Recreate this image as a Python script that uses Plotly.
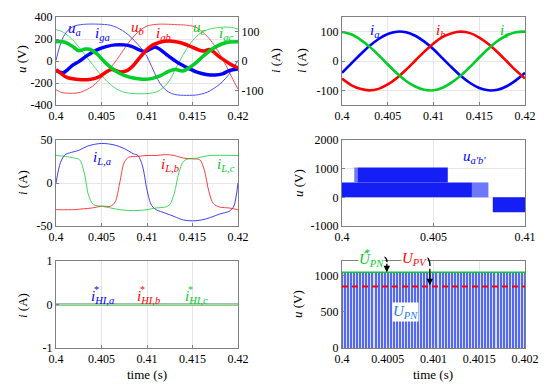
import plotly.graph_objects as go

# ---------------- data (time in ms after 0.4 s) ----------------
t_u_ms = [0, 0.67, 1.33, 2.0, 2.67, 3.33, 4.0, 4.67, 5.33, 6.0, 6.67, 7.33, 8.0, 8.67, 9.33,
          10.0, 10.67, 11.33, 12.0, 12.67, 13.33, 14.0, 14.67, 15.33, 16.0, 16.67, 17.33,
          18.0, 18.67, 19.33, 20.0]
u_a = [5, 195, 280, 318, 330, 335, 336, 335, 332, 325, 305, 275, 235, 180, 120, 40, -80, -190,
       -260, -295, -308, -312, -312, -310, -300, -282, -250, -210, -155, -85, 5]
u_b = [-262, -288, -293, -293, -285, -262, -230, -180, -125, -60, 10, 90, 170, 235, 285, 318,
       330, 335, 335, 333, 330, 328, 322, 310, 270, 220, 150, 65, -40, -150, -255]
u_c = [285, 268, 230, 176, 110, 40, -30, -100, -160, -215, -255, -280, -292, -297, -298, -296,
       -290, -270, -225, -150, -40, 60, 150, 215, 260, 285, 298, 305, 308, 305, 290]

t_iga_ms = [0, 0.8, 1.8, 2.5, 3.5, 4.5, 5.5, 6.5, 7.5, 8.3, 9.0, 9.7, 10.3, 10.9, 11.5, 12.3,
            13.4, 14.5, 15.5, 16.5, 17.5, 18.3, 19.1, 20]
i_ga = [-33, -40, -15, -2, 20, 38, 49, 55, 55, 50, 40, 32, 40, 48, 38, 18, -6, -24, -38, -46,
        -48, -44, -32, -27]
t_igb_ms = [0, 1.2, 2.5, 3.7, 4.6, 5.4, 6.1, 7.0, 7.8, 8.5, 9.3, 10.3, 11.4, 12.5, 13.6, 14.7,
            15.5, 16.2, 16.9, 18.0, 19.4, 20]
i_gb = [-29, -56, -63, -63, -56, -40, -29, -37, -33, -15, 15, 48, 64, 68, 63, 51, 40, 34, 39,
        13, -15, -23]
t_igc_ms = [0, 1.0, 1.8, 2.5, 3.2, 3.7, 4.5, 5.5, 6.5, 7.5, 8.5, 9.5, 10.5, 11.5, 12.3, 13.1,
            13.9, 14.5, 15.3, 16.2, 17.2, 18.2, 19.1, 20]
i_gc = [66, 64, 50, 35, 41, 40, 24, -8, -33, -49, -58, -62, -60, -50, -36, -29, -34, -26, -8,
        17, 42, 58, 65, 66]

t_i_ms = [0, 1, 2, 3, 4, 5, 6, 7, 8, 9, 10, 11, 12, 13, 14, 15, 16, 17, 18, 19, 20]
i_a = [-40, -9, 22, 51, 75, 92, 100, 98, 86, 66, 40, 9, -22, -51, -75, -92, -100, -98, -86, -66, -40]
i_b = [-60, -82, -95, -100, -95, -80, -58, -30, 1, 32, 60, 82, 95, 100, 95, 80, 58, 30, -1, -32, -60]
i_c = [99, 91, 73, 49, 20, -12, -42, -68, -87, -98, -100, -91, -73, -49, -20, 12, 42, 68, 87, 98, 100]

t_ila_ms = [0, 0.5, 1.0, 1.5, 2.5, 3.5, 5.0, 6.5, 7.5, 8.5, 9.0, 9.5, 10.0, 10.5, 11.0, 12.0,
            13.0, 14.0, 15.0, 16.0, 17.0, 18.0, 19.0, 19.5, 20.0]
i_La = [0, 24, 33, 35, 38, 43, 46, 44, 40, 34, 32, 20, -8, -26, -31, -35, -39, -43, -44, -43,
        -40, -36, -33, -28, 0]
t_ilb_ms = [0, 2, 3, 4, 5, 6, 6.5, 7.0, 7.5, 8.0, 9, 10, 11, 12, 13, 14, 15, 15.8, 16.3, 16.8,
            17.3, 18, 19, 20]
i_Lb = [-31, -31, -30, -29, -27, -27, -22, 0, 24, 30, 31, 32, 32, 33, 32, 29, 28, 27, 15, -10,
        -24, -28, -29, -31]
t_ilc_ms = [0, 1, 2, 2.6, 3.1, 3.6, 4.1, 5, 6, 7, 8, 9, 10, 11, 12, 12.5, 13.0, 13.5, 14.0,
            14.5, 15.5, 16.3, 17, 20]
i_Lc = [32, 31, 29, 27, 12, -15, -25, -27, -29, -31, -32, -32, -31, -29, -28, -25, -12, 12, 25,
        28, 29, 31, 32, 32]

t_hi_ms = [0, 20]
i_HIa = [0, 0]
i_HIb = [0, 0]
i_HIc = [0, 0]

# PWM voltage u_a'b' bands (s, V)
pwm_t0 = [0.4, 0.4071, 0.40067, 0.40085, 0.40824]
pwm_t1 = [0.4071, 0.4080, 0.40085, 0.40578, 0.41]
pwm_lo = [0, 0, 520, 520, -520]
pwm_hi = [520, 520, 1040, 1040, 0]
pwm_dense = [True, False, False, True, True]

# DC link
U_PN_ref = 1045
U_PV = 850
upn_pulse_us = [0, 33, 67, 100, 133, 167, 200, 233, 267, 300, 333, 367, 400, 433, 467, 500,
                533, 567, 600, 633, 667, 700, 733, 767, 800, 833, 867, 900, 933, 967, 1000,
                1033, 1067, 1100, 1133, 1167, 1200, 1233, 1267, 1300, 1333, 1367, 1400, 1433,
                1467, 1500, 1533, 1567, 1600, 1633, 1667, 1700, 1733, 1767, 1800, 1833, 1867,
                1900, 1933, 1967, 2000]

# ---------------- styling ----------------
FONT = "Liberation Serif, DejaVu Serif, serif"
BLUE = "rgb(0,0,255)"
RED = "rgb(255,0,0)"
GREEN = "rgb(0,205,40)"
FRAME = "#808080"
GRID = "#e6e6e6"


def T(ms_list):
    return [0.4 + m / 1000.0 for m in ms_list]


fig = go.Figure()


def line(x, y, color, width, xa, ya, shape="spline", opacity=1.0, dash=None):
    fig.add_trace(go.Scatter(x=x, y=y, mode="lines", xaxis=xa, yaxis=ya, opacity=opacity,
                             line=dict(color=color, width=width, shape=shape, dash=dash,
                                       smoothing=0.9),
                             showlegend=False, hoverinfo="skip"))


# top-left: thin grid voltages (left axis), thick grid currents (right axis)
line(T(t_u_ms), u_a, BLUE, 1, "x", "y", opacity=0.7)
line(T(t_u_ms), u_b, RED, 1, "x", "y", opacity=0.7)
line(T(t_u_ms), u_c, GREEN, 1, "x", "y", opacity=0.7)
line(T(t_iga_ms), i_ga, BLUE, 3.5, "x", "y7")
line(T(t_igb_ms), i_gb, RED, 3.5, "x", "y7")
line(T(t_igc_ms), i_gc, GREEN, 3.5, "x", "y7")

# top-right
line(T(t_i_ms), i_a, BLUE, 2.6, "x2", "y2")
line(T(t_i_ms), i_b, RED, 2.6, "x2", "y2")
line(T(t_i_ms), i_c, GREEN, 2.6, "x2", "y2")

# middle-left
line(T(t_ila_ms), i_La, BLUE, 1, "x3", "y3", opacity=0.75)
line(T(t_ilb_ms), i_Lb, RED, 1, "x3", "y3", opacity=0.75)
line(T(t_ilc_ms), i_Lc, GREEN, 1, "x3", "y3", opacity=0.75)

# middle-right PWM bands
for a, b, lo, hi, dense in zip(pwm_t0, pwm_t1, pwm_lo, pwm_hi, pwm_dense):
    fig.add_trace(go.Scatter(x=[a, b, b, a, a], y=[lo, lo, hi, hi, lo], mode="lines",
                             fill="toself",
                             fillcolor="rgb(20,30,245)" if dense else "rgb(110,120,250)",
                             line=dict(width=0), xaxis="x4", yaxis="y4",
                             showlegend=False, hoverinfo="skip"))

# bottom-left
line(T(t_hi_ms), i_HIb, RED, 1.5, "x5", "y5", shape="linear")
line(T(t_hi_ms), i_HIa, BLUE, 1.5, "x5", "y5", shape="linear")
line(T(t_hi_ms), i_HIc, "rgb(140,232,140)", 2, "x5", "y5", shape="linear")

# bottom-right: light backdrop bar + switching stripes
fig.add_trace(go.Bar(x=[0.401], y=[U_PN_ref], width=[0.002],
                     marker=dict(color="rgb(218,224,252)", line=dict(width=0)),
                     xaxis="x6", yaxis="y6", showlegend=False, hoverinfo="skip"))
fig.add_trace(go.Bar(x=[0.4 + u * 1e-6 for u in upn_pulse_us], y=[U_PN_ref] * len(upn_pulse_us),
                     width=1.2e-5, marker=dict(color="rgb(85,105,242)", line=dict(width=0)),
                     xaxis="x6", yaxis="y6", showlegend=False, hoverinfo="skip"))
line([0.4, 0.402], [U_PN_ref, U_PN_ref], GREEN, 1.5, "x6", "y6", shape="linear")
line([0.4, 0.402], [U_PV, U_PV], RED, 2, "x6", "y6", shape="linear", dash="6px,4px")

# ---------------- axes ----------------
C1 = [56 / 550, 238 / 550]
C2 = [342 / 550, 525 / 550]
R1 = [1 - 105 / 385, 1 - 17 / 385]
R2 = [1 - 226 / 385, 1 - 140 / 385]
R3 = [1 - 348 / 385, 1 - 261 / 385]


def axis(domain, anchor, rng, vals, texts, **kw):
    d = dict(domain=domain, anchor=anchor, range=rng, tickmode="array", tickvals=vals,
             ticktext=texts, showline=True, linecolor=FRAME, linewidth=1, mirror=True,
             ticks="inside", ticklen=3, tickcolor=FRAME, showgrid=True, gridcolor=GRID,
             gridwidth=1, zeroline=False, automargin=False,
             tickfont=dict(family=FONT, size=12, color="black"))
    d.update(kw)
    return d


xv20 = [0.4, 0.405, 0.41, 0.415, 0.42]
xt20 = ["0.4", "0.405", "0.41", "0.415", "0.42"]

fig.update_layout(
    template="none",
    width=550, height=385, margin=dict(l=0, r=0, t=0, b=0, pad=0),
    paper_bgcolor="white", plot_bgcolor="white", barmode="overlay",
    font=dict(family=FONT),
    xaxis=axis(C1, "y", [0.4, 0.42], xv20, xt20),
    yaxis=axis(R1, "x", [-400, 400], [-400, -200, 0, 200, 400],
               ["-400", "-200", "0", "200", "400"]),
    yaxis7=axis(R1, "x", [-150, 150], [-100, 0, 100], ["-100", "0", "100"],
                overlaying="y", side="right", showgrid=False, mirror=False),
    xaxis2=axis(C2, "y2", [0.4, 0.42], xv20, xt20),
    yaxis2=axis(R1, "x2", [-150, 150], [-100, 0, 100], ["-100", "0", "100"]),
    xaxis3=axis(C1, "y3", [0.4, 0.42], xv20, xt20),
    yaxis3=axis(R2, "x3", [-50, 50], [-50, 0, 50], ["-50", "0", "50"]),
    xaxis4=axis(C2, "y4", [0.4, 0.41], [0.4, 0.405, 0.41], ["0.4", "0.405", "0.41"]),
    yaxis4=axis(R2, "x4", [-1000, 2000], [-1000, 0, 1000, 2000],
                ["-1000", "0", "1000", "2000"]),
    xaxis5=axis(C1, "y5", [0.4, 0.42], xv20, xt20),
    yaxis5=axis(R3, "x5", [-1, 1], [-1, 0, 1], ["-1", "0", "1"]),
    xaxis6=axis(C2, "y6", [0.4, 0.402], [0.4, 0.4005, 0.401, 0.4015, 0.402],
                ["0.4", "0.4005", "0.401", "0.4015", "0.402"]),
    yaxis6=axis(R3, "x6", [0, 1200], [0, 500, 1000], ["0", "500", "1000"]),
)


# ---------------- text ----------------
def P(x, y):
    return x / 550, 1 - y / 385


ann = []


def txt(x, y, s, color="black", size=15, angle=0, xanchor="center", bg=None):
    px, py = P(x, y)
    d = dict(x=px, y=py, xref="paper", yref="paper", text=s, showarrow=False,
             font=dict(family=FONT, size=size, color=color), textangle=angle,
             xanchor=xanchor, yanchor="middle")
    if bg:
        d.update(bgcolor=bg, borderpad=0)
    ann.append(d)


# axis titles
txt(22, 59, "<i>u</i> (V)", size=13, angle=-90)
txt(276, 61, "<i>i</i> (A)", size=13, angle=-90)
txt(302, 61, "<i>i</i> (A)", size=13, angle=-90)
txt(22, 183, "<i>i</i> (A)", size=13, angle=-90)
txt(298, 183, "<i>u</i> (V)", size=13, angle=-90)
txt(22, 306, "<i>i</i> (A)", size=13, angle=-90)
txt(297, 304, "<i>u</i> (V)", size=13, angle=-90)
txt(147, 374, "time (s)", size=13)
txt(433, 374, "time (s)", size=13)

# curve labels
txt(74, 29, "<i>u</i><sub><i>a</i></sub>", BLUE)
txt(102, 34, "<i>i</i><sub><i>ga</i></sub>", BLUE)
txt(137, 28, "<i>u</i><sub><i>b</i></sub>", RED)
txt(163, 34, "<i>i</i><sub><i>gb</i></sub>", RED)
txt(199, 28, "<i>u</i><sub><i>c</i></sub>", GREEN)
txt(226, 34, "<i>i</i><sub><i>gc</i></sub>", GREEN)

txt(374, 31, "<i>i</i><sub><i>a</i></sub>", BLUE)
txt(440, 31, "<i>i</i><sub><i>b</i></sub>", RED)
txt(504, 31, "<i>i</i><sub><i>c</i></sub>", GREEN)

txt(102, 158, "<i>i</i><sub><i>L,a</i></sub>", BLUE)
txt(170, 165, "<i>i</i><sub><i>L,b</i></sub>", RED)
txt(226, 165, "<i>i</i><sub><i>L,c</i></sub>", GREEN)

txt(474, 157, "<i>u</i><sub><i>a'b'</i></sub>", BLUE)

for x0, col, ph in [(89, BLUE, "a"), (135, RED, "b"), (183, GREEN, "c")]:
    txt(x0, 297, "<i>i</i><sub><i>HI," + ph + "</i></sub>", col, xanchor="left")
    txt(x0 + 7, 289, "*", col, size=10, xanchor="center")

txt(358, 260, "<i>Û</i><sub><i>PN</i></sub>", GREEN, xanchor="left", bg="white")
txt(367, 252, "*", GREEN, size=10)
txt(401, 259, "<i>U</i><sub><i>PV</i></sub>", RED, xanchor="left", bg="white")
txt(392, 312, "<i>U</i><sub><i>PN</i></sub>", "rgb(30,120,255)", xanchor="left", bg="white")

# arrows (curved part as paper path + arrowhead annotation)
shapes = []
for (sx, sy, cx, cy, ex, ey) in [(381, 257, 387, 256, 387, 262), (423, 257, 430, 256, 430, 266)]:
    a = P(sx, sy)
    c = P(cx, cy)
    e = P(ex, ey)
    shapes.append(dict(type="path", xref="paper", yref="paper",
                       path=f"M {a[0]},{a[1]} Q {c[0]},{c[1]} {e[0]},{e[1]}",
                       line=dict(color="black", width=1.3)))
ann.append(dict(x=0.40049, y=U_PN_ref, xref="x6", yref="y6", ax=0, ay=-10, text="",
                showarrow=True, arrowhead=2, arrowsize=1, arrowwidth=1.3, arrowcolor="black"))
ann.append(dict(x=0.40096, y=U_PV + 15, xref="x6", yref="y6", ax=0, ay=-18, text="",
                showarrow=True, arrowhead=2, arrowsize=1, arrowwidth=1.3, arrowcolor="black"))

fig.update_layout(annotations=ann, shapes=shapes)
fig.write_html("out.html", config={"displayModeBar": False},
               post_script="document.body.style.margin='0';document.body.style.padding='0';")
